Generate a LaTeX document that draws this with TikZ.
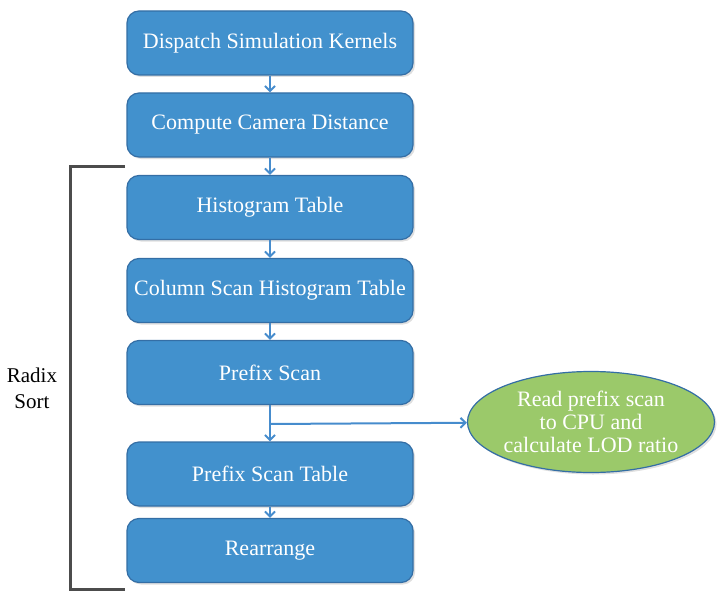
\documentclass[tikz,border=0pt]{standalone}
\usepackage{fontspec}
\setmainfont{Liberation Serif}
\usepackage{tikz}
\usetikzlibrary{shapes.geometric,shadows,arrows.meta}

\definecolor{boxblue}{RGB}{66,145,205}
\definecolor{boxedge}{RGB}{52,110,165}
\definecolor{arrowblue}{RGB}{70,140,205}
\definecolor{lodgreen}{RGB}{155,201,106}

\tikzset{
	stage/.style={draw=boxedge, line width=1.2pt, fill=boxblue, rounded corners=12pt,
		minimum width=286pt, minimum height=64pt, text=white, font=\fontsize{22}{25}\selectfont,
		drop shadow={opacity=0.25, shadow xshift=2pt, shadow yshift=-2pt}},
	flow/.style={draw=arrowblue, line width=2pt, -{Straight Barb[length=5pt,width=10pt]}},
}

\begin{document}
\begin{tikzpicture}[x=1pt, y=-1pt]
			\useasboundingbox (0,0) rectangle (720,615);
			\node[stage] (k1) at (270,43) {Dispatch Simulation Kernels};
			\node[stage] (k2) at (270,125) {Compute Camera Distance};
			\node[stage] (k3) at (270,207.5) {Histogram Table};
			\node[stage] (k4) at (270,290.5) {Column Scan Histogram Table};
			\node[stage] (k5) at (270,372.5) {Prefix Scan};
			\node[stage] (k6) at (270,474) {Prefix Scan Table};
			\node[stage] (k7) at (270,550.5) {Rearrange};
			\node[ellipse, draw=boxedge, line width=1.2pt, fill=lodgreen, minimum width=242pt, minimum height=101pt,
				inner sep=0pt, align=center, text=white, font=\fontsize{22}{23}\selectfont,
				drop shadow={opacity=0.25, shadow xshift=2pt, shadow yshift=-2pt}]
				(lod) at (591,422) {Read prefix scan\\to CPU and\\calculate LOD ratio};
			\node[align=center, font=\fontsize{21}{26}\selectfont] (rs) at (32,388) {Radix\\Sort};
			\draw[flow] (k1) -- (k2);
			\draw[flow] (k2) -- (k3);
			\draw[flow] (k3) -- (k4);
			\draw[flow] (k4) -- (k5);
			\draw[flow] (k5) -- (k6);
			\draw[flow] (k6) -- (k7);
			\coordinate (split) at (270,424);
			\draw[flow] (split) -- (lod);
			% bracket round the radix sort stages
			\coordinate (bt) at (125,166);
			\coordinate (bb) at (125,589);
			\draw[line width=3pt, color=black!70] (bt) -- (70,166) -- (70,589) -- (bb);
		\end{tikzpicture}
\end{document}
